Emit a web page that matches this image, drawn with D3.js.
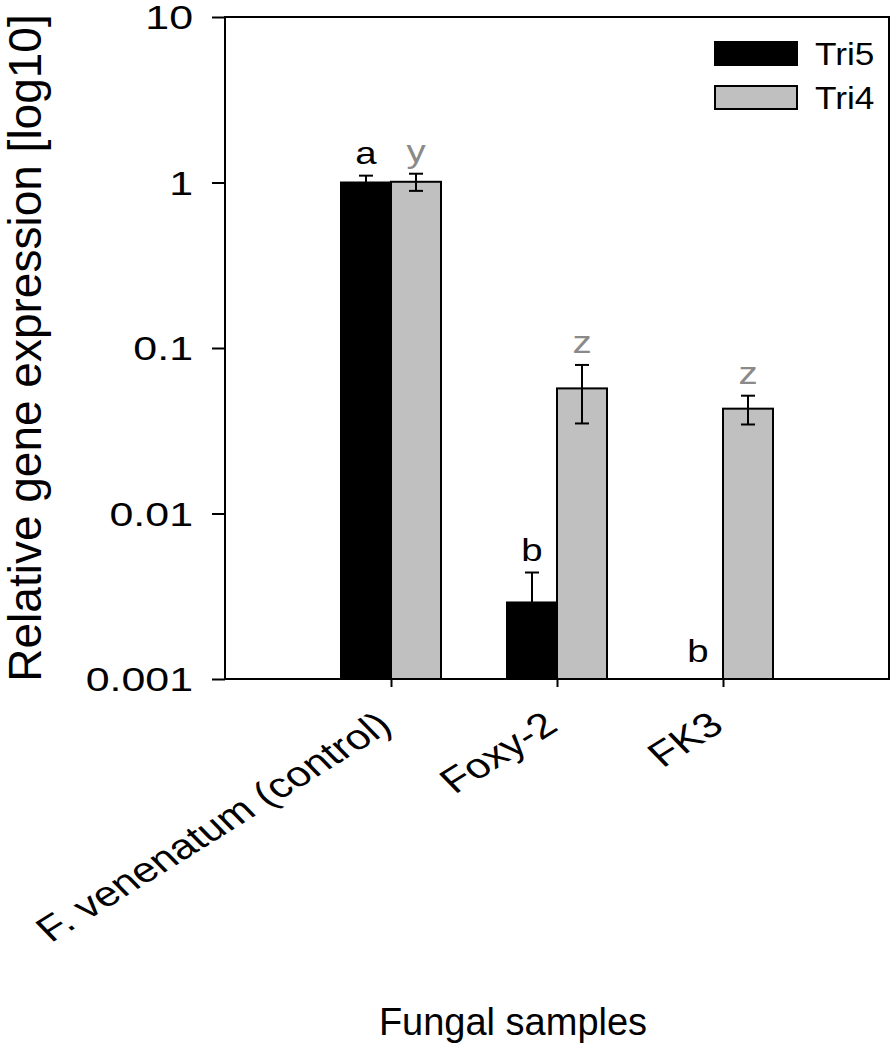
<!DOCTYPE html>
<html>
<head>
<meta charset="utf-8">
<script src="https://cdn.jsdelivr.net/npm/d3@7"></script>
<style>
  body { margin: 0; background: #fff; }
  svg text { font-family: Arial, "Liberation Sans", sans-serif; }
</style>
</head>
<body>
<div id="chart"></div>
<script>
// data
var categories = ["F. venenatum (control)", "Foxy-2", "FK3"];
var tri5 = [1.0, 0.0029, null];
var tri5Err = [0.1, 0.0015, null];
var tri4 = [1.01, 0.057, 0.043];
var tri4Err = [0.12, 0.022, 0.0085];
var tri5Letters = ["a", "b", "b"];
var tri4Letters = ["y", "z", "z"];
var yTicks = [0.001, 0.01, 0.1, 1, 10];
var yTickLabels = ["0.001", "0.01", "0.1", "1", "10"];
var seriesNames = ["Tri5", "Tri4"];

var width = 893, height = 1051;
var padding = { top: 17, right: 4, bottom: 372, left: 225 };
var coordWidth = width - padding.left - padding.right;
var coordHeight = height - padding.top - padding.bottom;
var barWidth = 50;
var stretch = 1.3; // the original text is drawn wide

var svg = d3.select("#chart").append("svg")
    .attr("width", width)
    .attr("height", height);

var chart = svg.append("g")
    .attr("transform", "translate(" + padding.left + "," + padding.top + ")");

var yScale = d3.scaleLog()
    .domain([0.001, 10])
    .range([coordHeight, 0]);

var xScale = d3.scalePoint()
    .domain(categories)
    .range([coordWidth / 4, coordWidth * 3 / 4]);

// bars
var fills = ["#000000", "#c0c0c0"];
[tri5, tri4].forEach(function(serie, s) {
    var rows = serie.map(function(v, i) { return { cat: categories[i], value: v }; })
        .filter(function(r) { return r.value != null; });
    chart.selectAll(".bar-" + s)
        .data(rows)
        .enter().append("rect")
        .attr("class", "bar-" + s)
        .attr("x", function(d) { return xScale(d.cat) + (s === 0 ? -barWidth : 0); })
        .attr("y", function(d) { return yScale(d.value); })
        .attr("width", barWidth)
        .attr("height", function(d) { return coordHeight - yScale(d.value); })
        .attr("fill", fills[s])
        .attr("stroke", "#000")
        .attr("stroke-width", 2);
});

// error bars
var cap = 7;
[[tri5, tri5Err], [tri4, tri4Err]].forEach(function(pair, s) {
    pair[0].forEach(function(v, i) {
        if (v == null) return;
        var cx = xScale(categories[i]) + (s === 0 ? -barWidth / 2 : barWidth / 2);
        var top = yScale(v + pair[1][i]);
        var bot = yScale(v - pair[1][i]);
        var g = chart.append("g").attr("stroke", "#000").attr("stroke-width", 2);
        g.append("line").attr("x1", cx).attr("x2", cx).attr("y1", top).attr("y2", bot);
        g.append("line").attr("x1", cx - cap).attr("x2", cx + cap).attr("y1", top).attr("y2", top);
        g.append("line").attr("x1", cx - cap).attr("x2", cx + cap).attr("y1", bot).attr("y2", bot);
    });
});

// significance letters
var letterColors = ["#000000", "#8a8a8a"];
[[tri5, tri5Err, tri5Letters], [tri4, tri4Err, tri4Letters]].forEach(function(set, s) {
    set[2].forEach(function(letter, i) {
        var cx = xScale(categories[i]) + (s === 0 ? -barWidth / 2 : barWidth / 2);
        var y = set[0][i] == null ? coordHeight - 17 : yScale(set[0][i] + set[1][i]) - 12;
        chart.append("text")
            .attr("transform", "translate(" + cx + "," + y + ") scale(1.2,1)")
            .attr("text-anchor", "middle")
            .attr("font-size", 32)
            .attr("fill", letterColors[s])
            .text(letter);
    });
});

// frame
chart.append("rect")
    .attr("width", coordWidth)
    .attr("height", coordHeight)
    .attr("fill", "none")
    .attr("stroke", "#000")
    .attr("stroke-width", 2);

// y axis
var yAxis = d3.axisLeft(yScale)
    .tickValues(yTicks)
    .tickSize(13)
    .tickPadding(0)
    .tickFormat(function(d, i) { return yTickLabels[i]; });

var yAxisG = chart.append("g").attr("class", "axis y-axis").call(yAxis);
yAxisG.select(".domain").remove();
yAxisG.selectAll("line").attr("stroke", "#000").attr("stroke-width", 2);
yAxisG.selectAll("text")
    .attr("font-size", 33)
    .attr("fill", "#000")
    .attr("x", -32 / stretch)
    .attr("dy", "0.35em")
    .attr("transform", "scale(" + stretch + ",1)");

// x axis
var xAxis = d3.axisBottom(xScale).tickSize(8).tickFormat("");
var xAxisG = chart.append("g")
    .attr("class", "axis x-axis")
    .attr("transform", "translate(0," + coordHeight + ")")
    .call(xAxis);
xAxisG.select(".domain").remove();
xAxisG.selectAll("line").attr("stroke", "#000").attr("stroke-width", 2);

chart.selectAll(".cat-label")
    .data(categories)
    .enter().append("text")
    .attr("class", "cat-label")
    .attr("transform", function(d) {
        return "translate(" + (xScale(d) + 3) + "," + (coordHeight + 50) + ") scale(1.25,1) rotate(-38)";
    })
    .attr("text-anchor", "end")
    .attr("font-size", 35)
    .attr("fill", "#000")
    .text(function(d) { return d; });

// axis titles
svg.append("text")
    .attr("transform", "translate(41," + (padding.top + coordHeight / 2) + ") rotate(-90)")
    .attr("text-anchor", "middle")
    .attr("font-size", 46)
    .attr("fill", "#000")
    .text("Relative gene expression [log10]");

svg.append("text")
    .attr("x", 513)
    .attr("y", 1035)
    .attr("text-anchor", "middle")
    .attr("font-size", 38)
    .attr("fill", "#000")
    .text("Fungal samples");

// legend
var legend = chart.append("g").attr("transform", "translate(490,25)");
seriesNames.forEach(function(name, i) {
    legend.append("rect")
        .attr("x", 0)
        .attr("y", i * 44)
        .attr("width", 82)
        .attr("height", 23)
        .attr("fill", fills[i])
        .attr("stroke", "#000")
        .attr("stroke-width", 2);
    legend.append("text")
        .attr("transform", "translate(100," + (i * 44 + 23) + ") scale(1.1,1)")
        .attr("font-size", 32)
        .attr("fill", "#000")
        .text(name);
});
</script>
</body>
</html>
